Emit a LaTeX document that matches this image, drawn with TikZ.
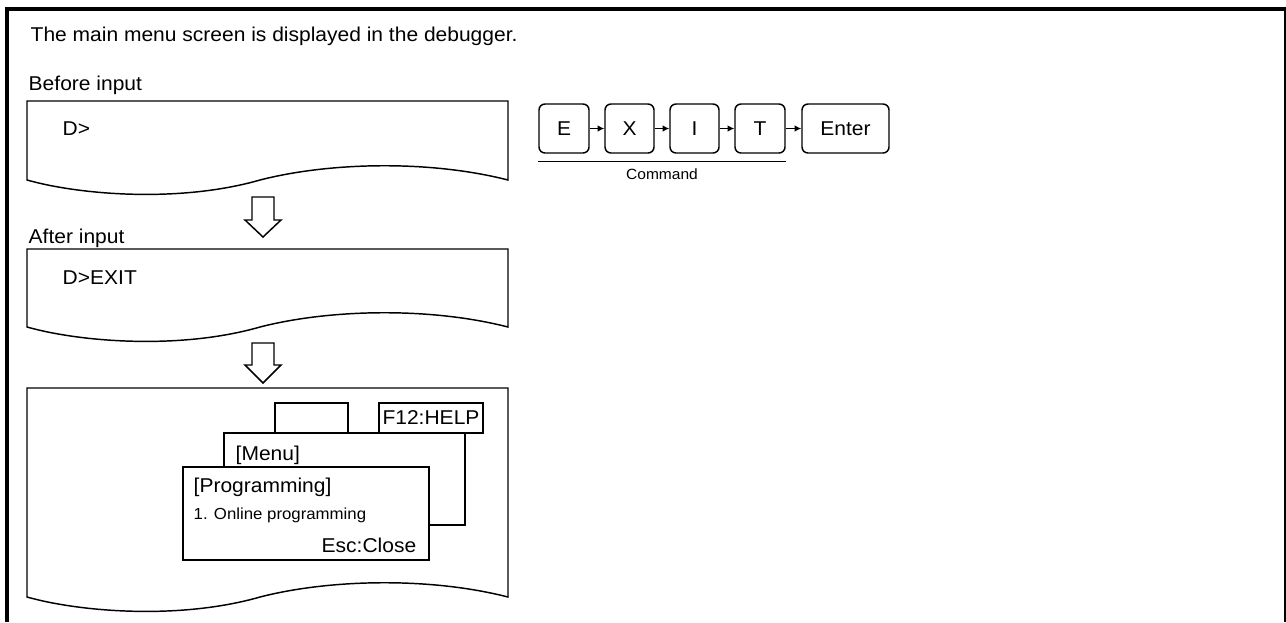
\documentclass[tikz,border=0pt]{standalone}
\usepackage{fontspec}
\setmainfont{Liberation Sans}[FakeStretch=1.05]
\usetikzlibrary{arrows.meta}

\begin{document}
\begin{tikzpicture}[x=0.75pt, y=-0.75pt, line width=1.1pt,
		big/.style={font=\fontsize{15}{17}\selectfont, inner sep=0pt},
		small/.style={font=\fontsize{12}{14}\selectfont, inner sep=0pt},
		keybox/.style={shape=rectangle, draw, rounded corners=4.5pt, minimum height=36.75pt, font=\fontsize{15}{17}\selectfont},
		win/.style={shape=rectangle, draw, fill=white, inner sep=0pt, font=\fontsize{15}{17}\selectfont},
		hollow/.style={draw, fill=white},
		keyarrow/.style={-{Latex[length=5pt, width=5pt]}}]
	\useasboundingbox (0,0) rectangle (1286,622);

	\draw[line width=3.4pt] (7,622) -- (7,9) -- (1286,9);
	\draw (1285,9) -- (1285,622);

	\node[big, anchor=base west] (title) at (30,41) {The main menu screen is displayed in the debugger.};
	\node[big, anchor=base west] (before) at (28,90) {Before input};
	\node[big, anchor=base west] (after) at (28,243) {After input};

	\draw (27,101) -- (508,101) -- (508,180) .. controls (430,160) and (330,162) .. (260,180) .. controls (180,203) and (80,195) .. (27,180) -- cycle;
	\draw (27,249) -- (508,249) -- (508,327) .. controls (430,307) and (330,309) .. (260,327) .. controls (180,350) and (80,342) .. (27,327) -- cycle;
	\draw (27,388) -- (508,388) -- (508,597) .. controls (430,577) and (330,579) .. (260,597) .. controls (180,620) and (80,612) .. (27,597) -- cycle;

	\node[big, anchor=base west] (prompt1) at (62,135) {D>};
	\node[big, anchor=base west] (prompt2) at (62,284) {D>EXIT};

	\draw[hollow] (252,197) -- (274,197) -- (274,220) -- (281,220) -- (263,237) -- (245,220) -- (252,220) -- cycle;
	\draw[hollow] (252,343) -- (274,343) -- (274,365) -- (281,365) -- (263,383) -- (245,365) -- (252,365) -- cycle;

	\node[keybox, minimum width=37.5pt] (e) at (564,128.5) {E};
	\node[keybox, minimum width=36.75pt] (x) at (629.5,128.5) {X};
	\node[keybox, minimum width=36.75pt] (i) at (694.5,128.5) {I};
	\node[keybox, minimum width=37.5pt] (t) at (760,128.5) {T};
	\node[keybox, minimum width=65.25pt] (enter) at (845.5,128.5) {Enter};

	\draw[keyarrow] (e) to (x);
	\draw[keyarrow] (x) to (i);
	\draw[keyarrow] (i) to (t);
	\draw[keyarrow] (t) to (enter);

	\draw ([yshift=-6pt]e.south west) -- node[anchor=north, yshift=-4.5pt, inner sep=0pt, font=\fontsize{11.1}{13}\selectfont] (command) {Command} ([yshift=-6pt]t.south east);

	\node[win, minimum width=54.75pt, minimum height=22.5pt] (tabblank) at (311.5,418) {};
	\node[win, minimum width=78pt, minimum height=22.5pt] (help) at (431,418) {F12:HELP};
	\node[win, minimum width=180.75pt, minimum height=69pt] (menu) at (344.5,479) {};
	\node[big, anchor=base west] (menutitle) at (235,460) {[Menu]};
	\node[win, minimum width=184.5pt, minimum height=69.75pt] (prog) at (306,513.5) {};
	\node[big, anchor=base west] (progtitle) at (193,492) {[Programming]};
	\node[small, anchor=base west] (online) at (193,519) {1. Online programming};
	\node[big, anchor=base east] (close) at (417,552) {Esc:Close};
\end{tikzpicture}
\end{document}
